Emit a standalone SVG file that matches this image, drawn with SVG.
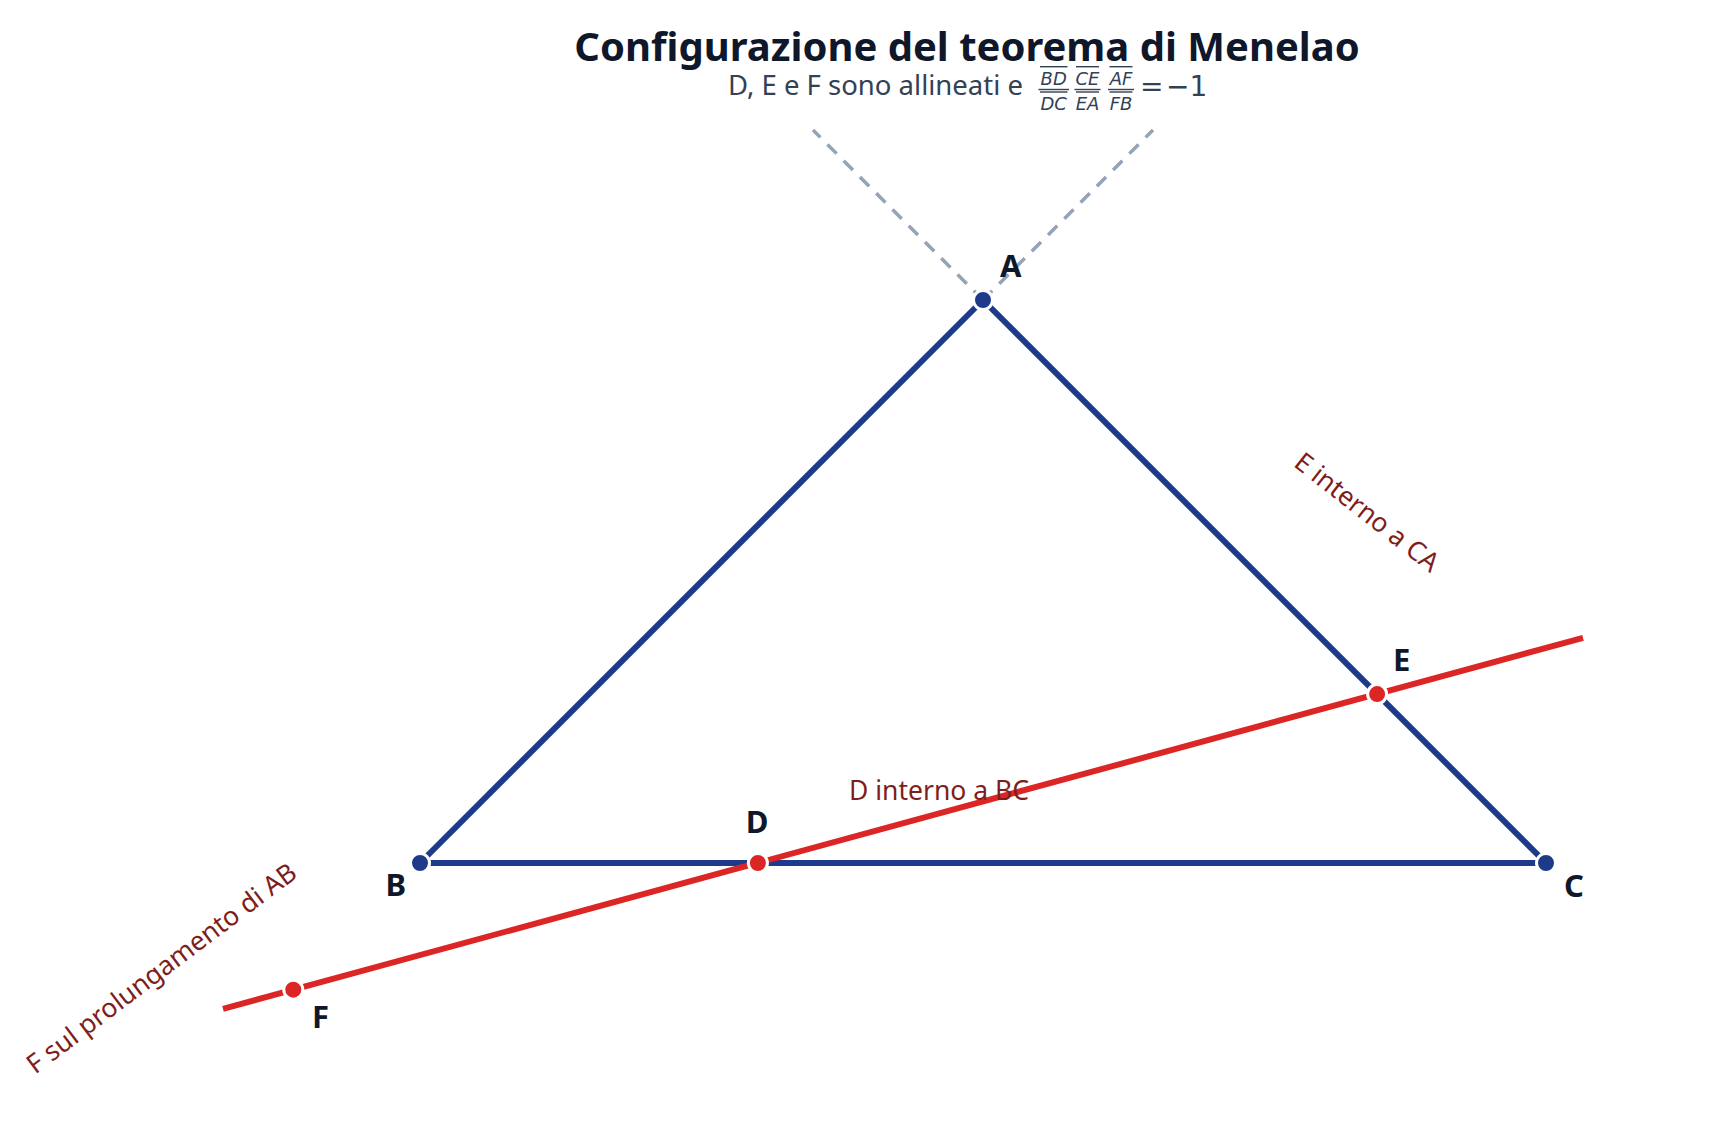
<svg xmlns="http://www.w3.org/2000/svg" width="1733" height="1134" viewBox="0 0 1733 1134">
<style>
.title{font-family:"Noto Sans","Open Sans",sans-serif;font-weight:700;font-size:40px;fill:#0f172a;text-anchor:middle}
.sub{font-family:"Noto Sans","Open Sans",sans-serif;font-size:27.5px;fill:#334155}
.mi{font-family:"DejaVu Sans",sans-serif;font-style:italic;font-size:18px;fill:#334155;text-anchor:middle}
.mn{font-family:"DejaVu Sans",sans-serif;font-size:28px;fill:#334155}
.mline{stroke:#334155;stroke-width:1.4}
.side{stroke:#1e3a8a;stroke-width:6;fill:none;stroke-linecap:butt}
.trans{stroke:#dc2626;stroke-width:6;fill:none}
.ext{stroke:#94a3b8;stroke-width:3.5;fill:none;stroke-dasharray:13 10}
.pb{fill:#1e3a8a;stroke:#fff;stroke-width:3}
.pr{fill:#dc2626;stroke:#fff;stroke-width:3}
.lbl{font-family:"Noto Sans","Open Sans",sans-serif;font-weight:700;font-size:31px;fill:#0f172a}
.note{font-family:"Noto Sans","Open Sans",sans-serif;font-size:26.5px;fill:#7f1d1d}
</style>
<text class="title" x="967" y="61">Configurazione del teorema di Menelao</text>
<g id="subtitle">
<text class="sub" x="728" y="95">D, E e F sono allineati e</text>
<line class="mline" x1="1040" y1="66.7" x2="1067.5" y2="66.7"/>
<text class="mi" x="1053.7" y="85">BD</text>
<line class="mline" x1="1038.5" y1="89.5" x2="1069" y2="89.5"/>
<line class="mline" x1="1040" y1="92" x2="1067.5" y2="92"/>
<text class="mi" x="1053.7" y="109.5">DC</text>
<line class="mline" x1="1076" y1="66.7" x2="1099" y2="66.7"/>
<text class="mi" x="1087.5" y="85">CE</text>
<line class="mline" x1="1074.5" y1="89.5" x2="1100.5" y2="89.5"/>
<line class="mline" x1="1076" y1="92" x2="1099" y2="92"/>
<text class="mi" x="1087.5" y="109.5">EA</text>
<line class="mline" x1="1109.5" y1="66.7" x2="1132.5" y2="66.7"/>
<text class="mi" x="1121" y="85">AF</text>
<line class="mline" x1="1108" y1="89.5" x2="1134" y2="89.5"/>
<line class="mline" x1="1109.5" y1="92" x2="1132.5" y2="92"/>
<text class="mi" x="1121" y="109.5">FB</text>
<text class="mn" x="1140" y="96">=</text>
<text class="mn" x="1166" y="96">−1</text>
</g>
<g id="connectors">
<line id="ext-AB" class="ext" x1="983" y1="300" x2="813" y2="130"/>
<line id="ext-AC" class="ext" x1="983" y1="300" x2="1153" y2="130"/>
<line id="side-AB" class="side" x1="983" y1="300" x2="420" y2="863"/>
<line id="side-AC" class="side" x1="983" y1="300" x2="1546" y2="863"/>
<line id="side-BC" class="side" x1="420" y1="863" x2="1546" y2="863"/>
<line id="transversal" class="trans" x1="223" y1="1008.8" x2="1583" y2="637.8"/>
</g>
<g id="node-A"><circle class="pb" cx="983" cy="300" r="9.5"/><text class="lbl" x="1000" y="277">A</text></g>
<g id="node-B"><circle class="pb" cx="420" cy="863" r="9.5"/><text class="lbl" x="406" y="896" text-anchor="end">B</text></g>
<g id="node-C"><circle class="pb" cx="1546" cy="863" r="9.5"/><text class="lbl" x="1564" y="897">C</text></g>
<g id="node-D"><circle class="pr" cx="757.9" cy="863" r="9.5"/><text class="lbl" x="757" y="833" text-anchor="middle">D</text></g>
<g id="node-E"><circle class="pr" cx="1377.1" cy="694.1" r="9.5"/><text class="lbl" x="1393" y="671">E</text></g>
<g id="node-F"><circle class="pr" cx="293.3" cy="989.7" r="9.5"/><text class="lbl" x="312" y="1028">F</text></g>
<g id="notes">
<text class="note" x="939" y="800" text-anchor="middle">D interno a BC</text>
<text class="note" text-anchor="middle" dominant-baseline="central" transform="translate(1367.5 511.5) rotate(38)">E interno a CA</text>
<text class="note" text-anchor="middle" dominant-baseline="central" transform="translate(161 967.5) rotate(-37)">F sul prolungamento di AB</text>
</g>
</svg>
